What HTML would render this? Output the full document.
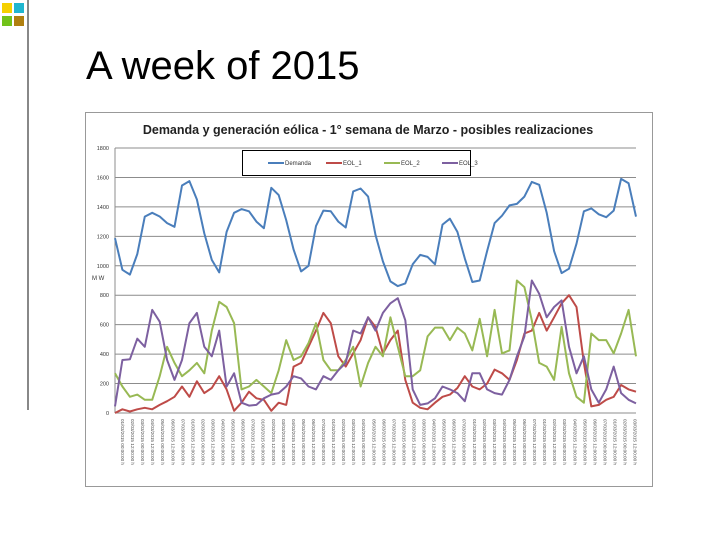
<!DOCTYPE html>
<html><head><meta charset="utf-8"><style>
body{margin:0;width:720px;height:540px;background:#fff;overflow:hidden;font-family:"Liberation Sans",sans-serif;position:relative}
.sq{position:absolute;width:10px;height:10px}
</style></head><body>
<div class="sq" style="left:2px;top:3px;background:#f5d000"></div>
<div class="sq" style="left:14px;top:3px;background:#1fb6d0"></div>
<div class="sq" style="left:2px;top:16px;background:#72c21a"></div>
<div class="sq" style="left:14px;top:16px;background:#b08010"></div>
<div style="position:absolute;left:27px;top:0;width:2px;height:410px;background:#888"></div>
<div style="position:absolute;left:86px;top:44px;font-size:40px;color:#000">A week of 2015</div>
<svg id="chart" width="720" height="540" style="position:absolute;left:0;top:0"></svg>
<script>
const demanda=[1187,973,940,1080,1334,1360,1335,1290,1265,1545,1575,1450,1220,1040,955,1230,1360,1385,1370,1300,1255,1530,1480,1310,1110,962,1000,1270,1375,1370,1300,1260,1505,1525,1470,1210,1030,894,862,880,1010,1074,1060,1010,1280,1320,1230,1050,890,900,1100,1290,1340,1410,1420,1470,1570,1550,1360,1100,950,980,1150,1370,1390,1350,1330,1375,1590,1560,1334];
const eol1=[0,25,10,25,35,25,55,80,110,180,110,215,135,170,250,160,15,70,145,100,90,15,70,55,315,340,450,560,680,610,385,315,405,495,650,585,405,495,560,225,70,35,25,70,110,125,170,250,180,160,200,295,270,225,360,540,560,680,560,650,745,800,720,340,45,55,90,110,190,160,145];
const eol2=[270,180,110,125,90,90,250,450,340,250,290,340,270,560,755,720,610,160,180,225,180,135,290,495,360,385,475,610,360,290,290,360,450,180,340,450,385,650,450,250,250,290,520,580,580,495,580,540,425,640,385,700,405,425,900,855,630,340,315,225,585,270,110,70,540,495,495,405,540,700,385];
const eol3=[45,360,365,505,450,700,620,360,225,360,610,680,450,385,560,180,270,70,50,55,100,125,135,180,250,235,180,160,250,225,290,340,560,540,650,560,680,745,780,630,160,55,65,100,180,160,135,80,270,270,160,135,125,225,385,520,900,810,650,720,765,450,270,385,160,70,160,315,135,90,65];
const yTicks=[0,200,400,600,800,1000,1200,1400,1600,1800];
const seriesNames=["Demanda","EOL_1","EOL_2","EOL_3"];
const colors=["#4a7ebb","#be4b48","#98b954","#7d60a0"];

const svg=document.getElementById('chart');const NS='http://www.w3.org/2000/svg';
const L=115,R=636,T=148,B=413;
const X=i=>L+(R-L)*i/(demanda.length-1);
const Y=v=>B-(B-T)*v/1800;
function mk(t,a){const e=document.createElementNS(NS,t);for(const k in a)e.setAttribute(k,a[k]);svg.appendChild(e);return e;}
const frame=mk('rect',{x:85.5,y:112.5,width:567,height:374,fill:'none',stroke:'#999'});


const ttl=mk('text',{x:368,y:134,'text-anchor':'middle','font-size':'12.5','font-weight':'bold',fill:'#222'});
ttl.textContent='Demanda y generación eólica - 1° semana de Marzo - posibles realizaciones';


yTicks.forEach(v=>{
 const g=mk('line',{x1:L,x2:R,y1:Y(v),y2:Y(v),stroke:'#8c8c8c','stroke-width':1});
 
 
 const t=mk('text',{x:L-6,y:Y(v)+2,'text-anchor':'end','font-size':'5.5',fill:'#333'});
 t.textContent=v;
 
 
});
const ax=mk('line',{x1:L,x2:L,y1:T,y2:B,stroke:'#8c8c8c'});


const yt=mk('text',{x:92,y:280,'font-size':'6',fill:'#333'});
yt.textContent='M W';


for(let i=0;i<52;i++){
 const x=L+6+i*10.05;
 const t=mk('text',{x:0,y:0,'font-size':'4.6',fill:'#555',transform:`translate(${x},419) rotate(90)`});
 t.textContent='0'+((i%7)+1)+'/03/2015 '+(i%2?'12':'00')+':00:00 h';
 
 
}
[demanda,eol1,eol2,eol3].forEach((s,k)=>{
 const p=mk('polyline',{points:s.map((v,i)=>X(i).toFixed(1)+','+Y(v).toFixed(1)).join(' '),fill:'none',stroke:colors[k],'stroke-width':2,'stroke-linejoin':'round'});
 
 
});
const lg=mk('rect',{x:242.5,y:150.5,width:228,height:25,fill:'#fff',stroke:'#000'});


seriesNames.forEach((n,k)=>{
 const x=268+k*58;
 const l=mk('line',{x1:x,x2:x+16,y1:163,y2:163,stroke:colors[k],'stroke-width':2});
 
 
 const t=mk('text',{x:x+17,y:165,'font-size':'6',fill:'#333'});
 t.textContent=n;
 
 
});
</script>
</body></html>
